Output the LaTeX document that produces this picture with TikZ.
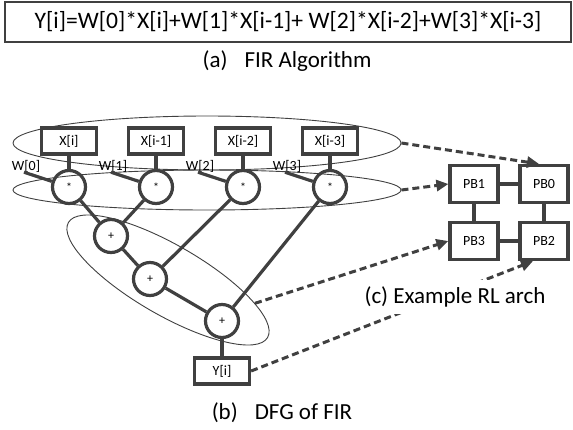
\documentclass[tikz,border=0pt]{standalone}
\usepackage{fontspec}
\setmainfont{Carlito}
\usetikzlibrary{shapes.geometric,arrows.meta}
\definecolor{ln}{HTML}{404040}
\begin{document}
\begin{tikzpicture}[x=1pt,y=-1pt,
  box/.style={draw=ln,line width=3.2pt,minimum width=55pt,minimum height=26pt,inner sep=0pt,font=\fontsize{14}{16}\selectfont},
  pbox/.style={draw=ln,line width=3.2pt,minimum width=48pt,minimum height=37pt,inner sep=0pt,font=\fontsize{14}{16}\selectfont},
  op/.style={circle,draw=ln,line width=3.2pt,minimum size=33pt,inner sep=0pt,font=\fontsize{12}{14}\selectfont},
  wlab/.style={inner sep=0pt,font=\fontsize{14}{16}\selectfont},
  grp/.style={ellipse,draw=ln,line width=0.9pt,inner sep=0pt},
  conn/.style={ln,line width=3.2pt},
  dasharr/.style={ln,line width=3pt,dash pattern=on 7pt off 4pt,-{Triangle[length=12pt,width=11pt]}},
  captxt/.style={inner sep=0pt,font=\fontsize{23}{27}\selectfont}
]
\useasboundingbox (0,0) rectangle (573,429);
% equation
\node[draw=ln,line width=1.2pt,minimum width=566pt,minimum height=40pt,inner sep=0pt,font=\fontsize{23.6}{28}\selectfont] (eq) at (288,22) {Y[i]=W[0]*X[i]+W[1]*X[i-1]+ W[2]*X[i-2]+W[3]*X[i-3]};
\node[captxt] (laba) at (287,61) {(a)\hspace{17pt}FIR Algorithm};
% groups
\node[grp,minimum width=388pt,minimum height=54pt] (topell) at (207,143) {};
\node[grp,minimum width=388pt,minimum height=40pt] (midell) at (207,190) {};
\node[grp,minimum width=230pt,minimum height=70pt,rotate=-30] (addell) at (168,280) {};
% inputs
\node[box] (x0) at (69,141) {X[i]};
\node[box] (x1) at (156,141) {X[i-1]};
\node[box] (x2) at (243,141) {X[i-2]};
\node[box] (x3) at (330,141) {X[i-3]};
\node[op] (m0) at (69,187) {*};
\node[op] (m1) at (156,187) {*};
\node[op] (m2) at (243,187) {*};
\node[op] (m3) at (330,187) {*};
\node[wlab] (w0) at (26,166) {W[0]};
\node[wlab] (w1) at (113,166) {W[1]};
\node[wlab] (w2) at (200,166) {W[2]};
\node[wlab] (w3) at (287,166) {W[3]};
\node[op] (a1) at (111,236) {+};
\node[op] (a2) at (150,279) {+};
\node[op] (a3) at (222,321) {+};
\node[box] (yy) at (222,371) {Y[i]};
% connections
\foreach \i in {0,1,2,3}{
  \draw[conn] (x\i) -- (m\i);
  \draw[conn] ([xshift=-2pt]w\i.south) -- (m\i);
}
\draw[conn] (m0) -- (a1);
\draw[conn] (m1) -- (a1);
\draw[conn] (a1) -- (a2);
\draw[conn] (m2) -- (a2);
\draw[conn] (a2) -- (a3);
\draw[conn] (m3) -- (a3);
\draw[conn] (a3) -- (yy);
% PB array
\node[pbox] (pb1) at (474,184) {PB1};
\node[pbox] (pb0) at (544,184) {PB0};
\node[pbox] (pb3) at (474,241) {PB3};
\node[pbox] (pb2) at (544,241) {PB2};
\draw[conn] (pb1) -- (pb0);
\draw[conn] (pb1) -- (pb3);
\draw[conn] (pb0) -- (pb2);
\draw[conn] (pb3) -- (pb2);
% mapping arrows
\draw[dasharr] (topell.east) -- ([xshift=-5pt]pb0.north);
\draw[dasharr] (midell.east) -- (pb1.west);
\draw[dasharr] (addell.15) -- (pb3.west);
\draw[dasharr] (yy.east) -- ([xshift=-11pt]pb2.south);
\node[captxt,fill=white,inner xsep=4pt,inner ysep=7pt] (labc) at (455,297) {(c) Example RL arch};
\node[captxt] (labb) at (282,413) {(b)\hspace{17pt}DFG of FIR};
\end{tikzpicture}
\end{document}
